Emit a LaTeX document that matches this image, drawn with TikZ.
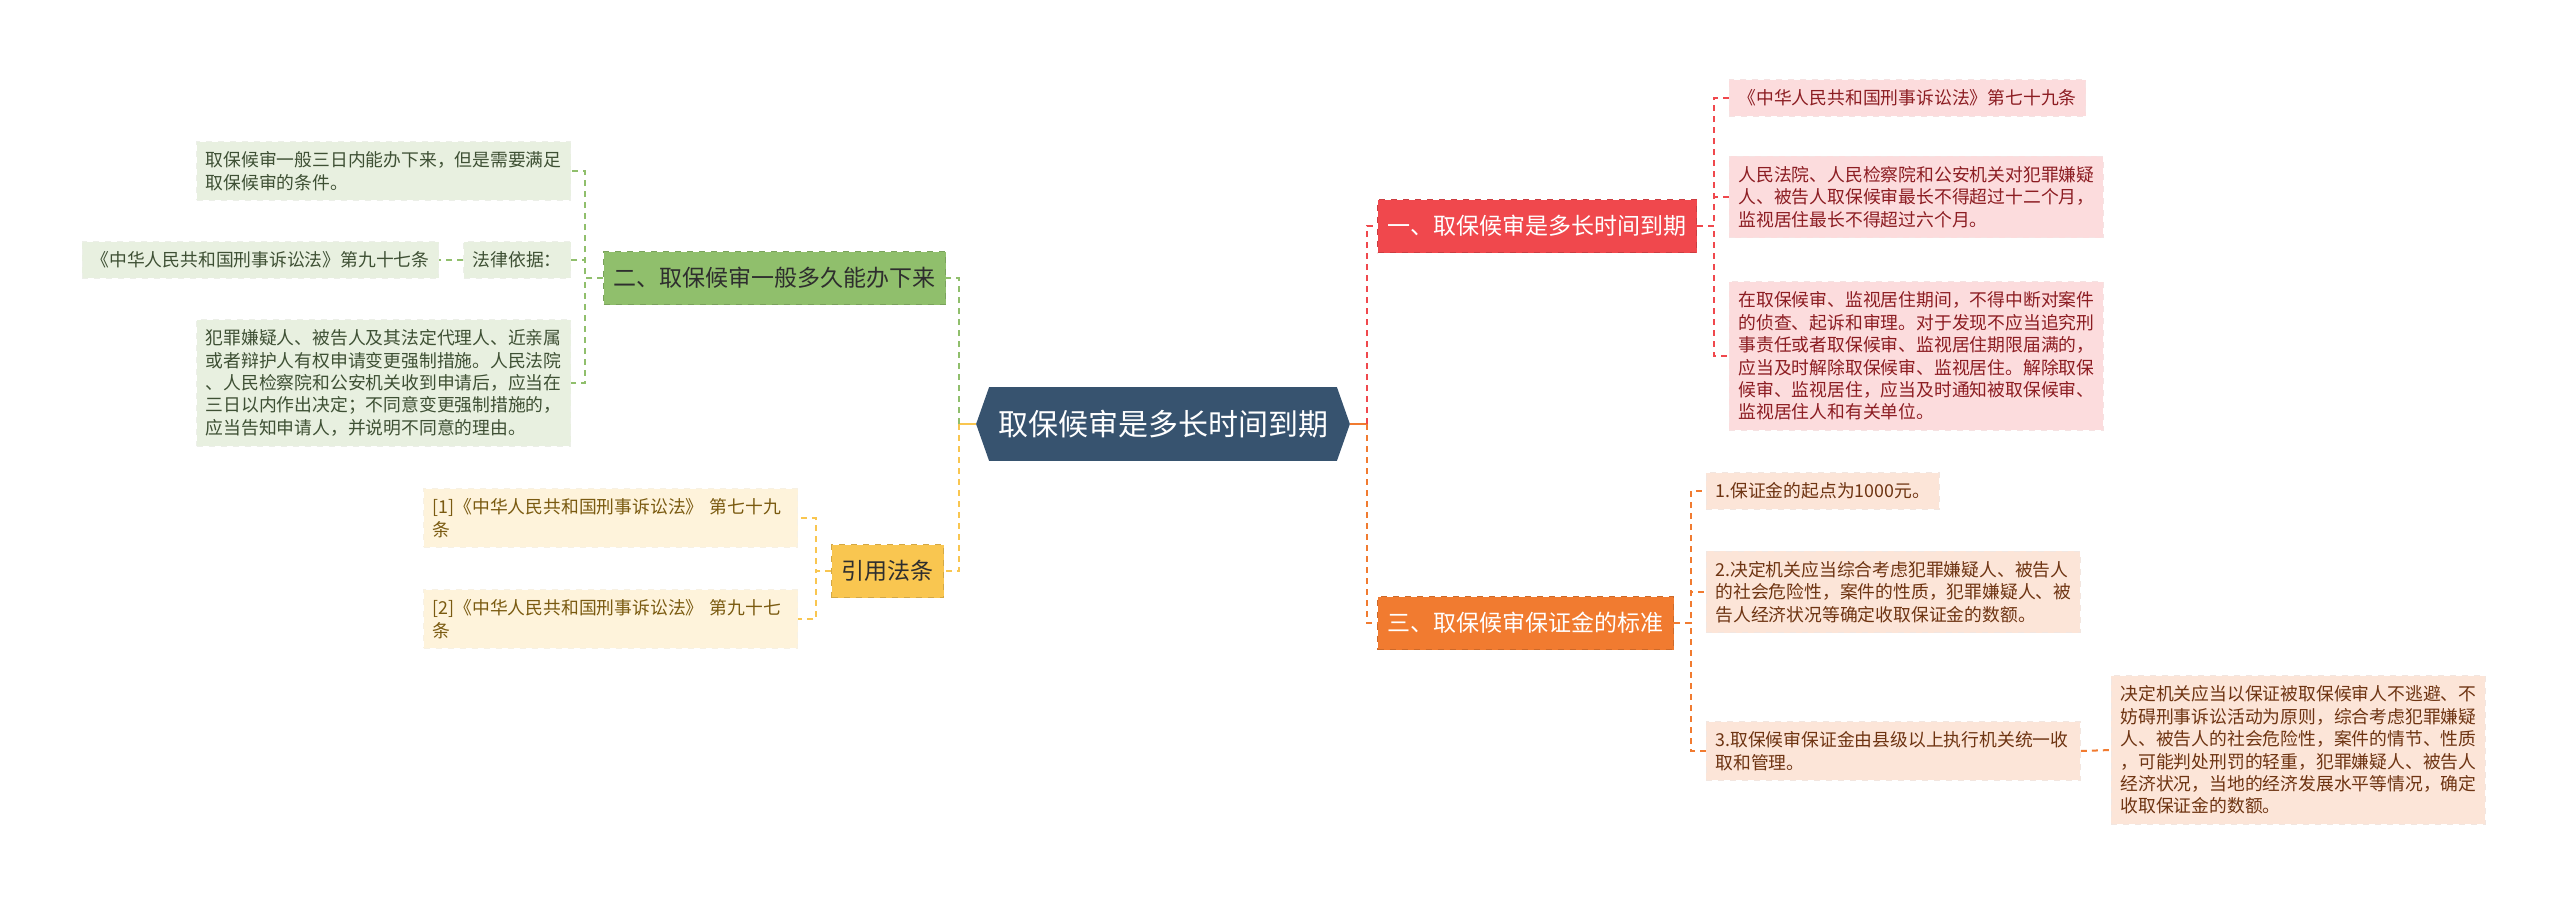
\documentclass[tikz,border=0pt]{standalone}
\usepackage{fontspec}
\setmainfont{Noto Sans CJK SC}
\usepackage{xcolor}
\usepackage{tikz}
\usetikzlibrary{backgrounds,calc}
\definecolor{RootBlue}{HTML}{37536F}
\definecolor{HeadRed}{HTML}{F0484D}
\definecolor{LeafRed}{HTML}{FCDCDD}
\definecolor{InkRed}{HTML}{8C1D22}
\definecolor{HeadOrange}{HTML}{F17B30}
\definecolor{LeafOrange}{HTML}{FCE5D8}
\definecolor{InkOrange}{HTML}{6E3412}
\definecolor{HeadGreen}{HTML}{90BF6C}
\definecolor{LeafGreen}{HTML}{E8F0E0}
\definecolor{InkGreen}{HTML}{3E5034}
\definecolor{HeadYellow}{HTML}{F9C650}
\definecolor{LeafYellow}{HTML}{FEF3DB}
\definecolor{InkYellow}{HTML}{7A5A10}
\definecolor{DarkText}{HTML}{2E2E2E}
\newcommand\leaffont{\fontsize{8.9}{11.2}\selectfont}
\newcommand\headfont{\fontsize{11.5}{13}\selectfont}
\newcommand\rootfont{\fontsize{15}{17}\selectfont}

\tikzset{
  leaf/.style={align=left,font=\leaffont,inner xsep=4.5pt,inner ysep=5pt,
    dashed,line width=0.4pt},
  wide/.style={text width=178pt},
  head/.style={font=\headfont,inner xsep=5pt,minimum height=26.5pt,
    dashed,line width=0.5pt},
  link/.style={dash pattern=on 3pt off 2.5pt,line width=1pt},
  redleaf/.style={leaf,fill=LeafRed,draw=LeafRed!80!InkRed!40,text=InkRed},
  orangeleaf/.style={leaf,fill=LeafOrange,draw=LeafOrange!80!InkOrange!40,text=InkOrange},
  greenleaf/.style={leaf,fill=LeafGreen,draw=LeafGreen!85!InkGreen!40,text=InkGreen},
  yellowleaf/.style={leaf,fill=LeafYellow,draw=LeafYellow!85!InkYellow!40,text=InkYellow}
}

\begin{document}
\begin{tikzpicture}[x=0.5pt,y=-0.5pt]
    \useasboundingbox (0,0) rectangle (2560,905);

    % Root.
    \node[font=\rootfont,text=white,minimum width=186.5pt,minimum height=36.5pt]
      (root) at (1163,424) {取保候审是多长时间到期};
    \begin{scope}[on background layer]
      \fill[RootBlue] ($(root.north west)+(13,0)$) -- ($(root.north east)+(-13,0)$)
        -- (root.east) -- ($(root.south east)+(-13,0)$)
        -- ($(root.south west)+(13,0)$) -- (root.west) -- cycle;
    \end{scope}

    % Main topics.
    \node[head,anchor=west,fill=HeadRed,draw=HeadRed!85!black,text=white]
      (h1) at (1377,226) {一、取保候审是多长时间到期};
    \node[head,anchor=west,fill=HeadOrange,draw=HeadOrange!85!black,text=white]
      (h3) at (1377,623) {三、取保候审保证金的标准};
    \node[head,anchor=east,fill=HeadGreen,draw=HeadGreen!85!black,text=DarkText]
      (h2) at (946,278) {二、取保候审一般多久能办下来};
    \node[head,anchor=east,fill=HeadYellow,draw=HeadYellow!85!black,text=DarkText]
      (h4) at (944,571) {引用法条};

    % Branch one.
    \node[redleaf,anchor=west] (r1) at (1729,98) {《中华人民共和国刑事诉讼法》第七十九条};
    \node[redleaf,wide,anchor=west] (r2) at (1729,197)
      {人民法院、人民检察院和公安机关对犯罪嫌疑\\人、被告人取保候审最长不得超过十二个月，\\监视居住最长不得超过六个月。};
    \node[redleaf,wide,anchor=west] (r3) at (1729,356)
      {在取保候审、监视居住期间，不得中断对案件\\的侦查、起诉和审理。对于发现不应当追究刑\\事责任或者取保候审、监视居住期限届满的，\\应当及时解除取保候审、监视居住。解除取保\\候审、监视居住，应当及时通知被取保候审、\\监视居住人和有关单位。};

    % Branch three.
    \node[orangeleaf,anchor=west] (o1) at (1706,491) {1.保证金的起点为1000元。};
    \node[orangeleaf,wide,anchor=west] (o2) at (1706,592)
      {2.决定机关应当综合考虑犯罪嫌疑人、被告人\\的社会危险性，案件的性质，犯罪嫌疑人、被\\告人经济状况等确定收取保证金的数额。};
    \node[orangeleaf,wide,anchor=west] (o3) at (1706,751)
      {3.取保候审保证金由县级以上执行机关统一收\\取和管理。};
    \node[orangeleaf,wide,anchor=west] (o4) at (2111,750)
      {决定机关应当以保证被取保候审人不逃避、不\\妨碍刑事诉讼活动为原则，综合考虑犯罪嫌疑\\人、被告人的社会危险性，案件的情节、性质\\，可能判处刑罚的轻重，犯罪嫌疑人、被告人\\经济状况，当地的经济发展水平等情况，确定\\收取保证金的数额。};

    % Branch two.
    \node[greenleaf,wide,anchor=east] (g1) at (571,171)
      {取保候审一般三日内能办下来，但是需要满足\\取保候审的条件。};
    \node[greenleaf,anchor=east] (g2) at (571,260) {法律依据：};
    \node[greenleaf,anchor=east] (g2a) at (439,260) {《中华人民共和国刑事诉讼法》第九十七条};
    \node[greenleaf,wide,anchor=east] (g3) at (571,383)
      {犯罪嫌疑人、被告人及其法定代理人、近亲属\\或者辩护人有权申请变更强制措施。人民法院\\、人民检察院和公安机关收到申请后，应当在\\三日以内作出决定；不同意变更强制措施的，\\应当告知申请人，并说明不同意的理由。};

    % Cited articles.
    \node[yellowleaf,wide,anchor=east] (y1) at (798,518)
      {[1]《中华人民共和国刑事诉讼法》 第七十九\\条};
    \node[yellowleaf,wide,anchor=east] (y2) at (798,619)
      {[2]《中华人民共和国刑事诉讼法》 第九十七\\条};

    % Links from the root.
    \draw[line width=1pt,HeadOrange] (root.east) -- ++(17,0) coordinate (rjoin);
    \draw[line width=1pt,HeadYellow] (root.west) -- ++(-17,0) coordinate (ljoin);
    \draw[link,HeadRed] (rjoin) |- (h1.west);
    \draw[link,HeadOrange] (rjoin) |- (h3.west);
    \draw[link,HeadGreen] (ljoin) |- (h2.east);
    \draw[link,HeadYellow] (ljoin) |- (h4.east);

    % Links to the leaves.
    \foreach \n in {r1,r2,r3}
      \draw[link,HeadRed] (h1.east) -- ++(17,0) |- (\n.west);
    \foreach \n in {o1,o2,o3}
      \draw[link,HeadOrange] (h3.east) -- ++(17,0) |- (\n.west);
    \draw[link,HeadOrange] (o3.east) -- (o4.west);
    \foreach \n in {g1,g2,g3}
      \draw[link,HeadGreen] (h2.west) -- ++(-18,0) |- (\n.east);
    \draw[link,HeadGreen] (g2.west) -- (g2a.east);
    \foreach \n in {y1,y2}
      \draw[link,HeadYellow] (h4.west) -- ++(-15,0) |- (\n.east);
  \end{tikzpicture}
\end{document}
